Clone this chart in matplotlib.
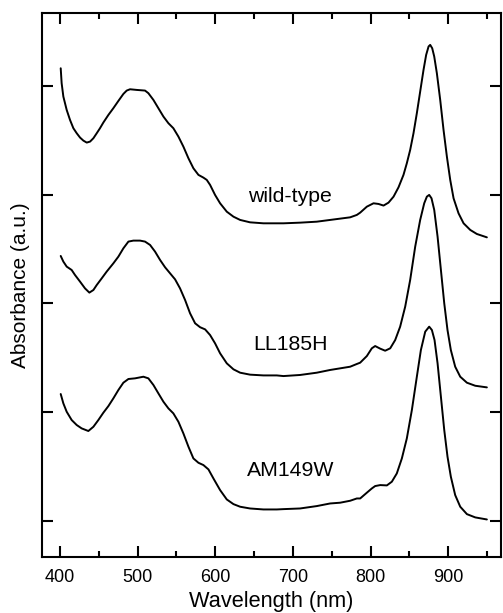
import matplotlib
matplotlib.use("Agg")
import matplotlib.pyplot as plt
from matplotlib.ticker import MultipleLocator, NullFormatter

plt.rcParams['font.family'] = ['Liberation Sans', 'DejaVu Sans']

# wavelength (nm) / absorbance (a.u., spectra stacked)
wt_nm = [400.9, 402.1, 404.3, 408.6, 412.9, 417.2, 421.5, 425.8, 430.1, 434.4, 438.7,
         443.0, 447.3, 451.5, 455.8, 462.3, 468.7, 475.2, 481.6, 485.9, 490.2, 498.8,
         509.5, 513.8, 520.3, 526.7, 533.2, 539.6, 546.0, 552.5, 558.9, 565.4, 571.8,
         578.3, 584.7, 589.0, 593.3, 599.7, 606.2, 614.8, 623.4, 632.0, 644.8, 662.0,
         687.8, 709.2, 730.7, 747.9, 760.8, 773.7, 782.3,
         786.6, 795.2, 803.8, 810.2, 816.7, 823.1, 829.6, 836.0, 842.4, 846.7, 851.0,
         855.3, 859.6, 863.9, 868.2, 871.6, 874.7, 876.8, 879.4, 882.0, 885.4, 889.7,
         894.0, 898.3, 902.6, 906.9, 913.3, 919.8, 928.4, 936.9, 949.8]
wt_abs = [4.162, 4.025, 3.902, 3.779, 3.687, 3.611, 3.565, 3.525, 3.497, 3.479, 3.488,
          3.519, 3.565, 3.611, 3.663, 3.733, 3.795, 3.862, 3.926, 3.957, 3.969, 3.963,
          3.957, 3.933, 3.871, 3.795, 3.718, 3.657, 3.611, 3.534, 3.442, 3.335, 3.243,
          3.182, 3.157, 3.136, 3.090, 2.998, 2.921, 2.844, 2.798, 2.768, 2.746, 2.737,
          2.737, 2.743, 2.752, 2.768, 2.780, 2.792, 2.814,
          2.835, 2.890, 2.921, 2.915, 2.900, 2.927, 2.982, 3.068, 3.182, 3.289, 3.411,
          3.565, 3.749, 3.948, 4.147, 4.285, 4.362, 4.377, 4.346, 4.270, 4.116, 3.871,
          3.595, 3.350, 3.136, 2.967, 2.829, 2.737, 2.676, 2.639, 2.608]

ll_nm = [400.9, 404.3, 408.6, 415.0, 419.3, 425.8, 432.2, 437.8, 443.0, 447.3, 453.7,
         460.1, 468.7, 475.2, 481.6, 488.1, 494.5, 503.1, 509.5, 516.0, 522.4, 528.9,
         535.3, 541.8, 548.2, 554.6, 561.1, 567.5, 574.0, 580.4, 586.9, 593.3, 599.7,
         606.2, 614.8, 623.4, 632.0, 644.8, 662.0, 679.2,
         687.8, 709.2, 730.7, 747.9, 760.8, 773.7, 782.3,
         786.6, 795.2, 801.6, 805.9, 812.4, 818.8, 825.3, 831.7, 838.1, 844.6, 851.0,
         857.5, 863.9, 869.1, 872.5, 875.5, 878.5, 882.0, 886.3, 890.6, 894.9, 899.1,
         903.4, 909.0, 915.5, 924.1, 934.8, 949.8]
ll_abs = [2.437, 2.385, 2.339, 2.308, 2.262, 2.201, 2.139, 2.100, 2.124, 2.170, 2.231,
          2.293, 2.369, 2.431, 2.507, 2.569, 2.578, 2.578, 2.569, 2.538, 2.477, 2.400,
          2.333, 2.277, 2.222, 2.139, 2.032, 1.910, 1.818, 1.782, 1.762, 1.710, 1.634,
          1.542, 1.450, 1.395, 1.364, 1.346, 1.339, 1.339,
          1.333, 1.343, 1.364, 1.389, 1.404, 1.419, 1.444,
          1.456, 1.517, 1.588, 1.609, 1.585, 1.566, 1.588, 1.664, 1.787, 1.971, 2.216,
          2.523, 2.768, 2.921, 2.982, 2.998, 2.967, 2.860, 2.615, 2.308, 2.002, 1.756,
          1.572, 1.419, 1.327, 1.272, 1.244, 1.229]

am_nm = [400.9, 404.3, 408.6, 415.0, 421.5, 427.9, 436.5, 443.0, 449.4, 455.8, 462.3,
         468.7, 475.2, 481.6, 488.1, 496.6, 507.4, 513.8, 520.3, 526.7, 533.2, 539.6,
         546.0, 552.5, 558.9, 565.4, 571.8, 578.3, 584.7, 591.2, 597.6, 606.2, 614.8,
         623.4, 632.0, 644.8, 662.0, 679.2,
         687.8, 709.2, 730.7, 747.9, 760.8, 773.7, 782.3,
         786.6, 795.2, 801.6, 805.9, 812.4, 821.0, 827.4, 833.8, 840.3, 846.7, 853.2,
         859.6, 864.8, 870.4, 875.5, 879.0, 882.4, 886.3, 890.6, 894.9, 899.1, 903.4,
         909.0, 915.5, 924.1, 934.8, 949.8]
am_abs = [1.168, 1.082, 1.005, 0.929, 0.883, 0.852, 0.828, 0.867, 0.929, 0.996, 1.057,
          1.128, 1.205, 1.272, 1.306, 1.312, 1.327, 1.312, 1.251, 1.174, 1.097, 1.036,
          0.990, 0.913, 0.806, 0.684, 0.576, 0.536, 0.515, 0.475, 0.392, 0.285, 0.199,
          0.156, 0.132, 0.116, 0.107, 0.107,
          0.110, 0.116, 0.138, 0.162, 0.169, 0.187, 0.208,
          0.208, 0.261, 0.300, 0.322, 0.331, 0.328, 0.362, 0.438, 0.576, 0.760, 1.021,
          1.327, 1.572, 1.741, 1.787, 1.756, 1.664, 1.450, 1.143, 0.837, 0.592, 0.408,
          0.239, 0.132, 0.064, 0.034, 0.015]

names = ["wild-type", "LL185H", "AM149W"]
label_x = [696, 697, 697]
label_y = [2.936, 1.572, 0.414]

fig = plt.figure(figsize=(5.03, 6.13), dpi=100)
ax = fig.add_axes([42/503, 56/613, 459/503, 544/613])

for xs, ys in [(wt_nm, wt_abs), (ll_nm, ll_abs), (am_nm, am_abs)]:
    ax.plot(xs, ys, color='black', lw=1.4, solid_joinstyle='round',
            solid_capstyle='round')

for n, lx, ly in zip(names, label_x, label_y):
    ax.text(lx, ly, n, fontsize=15.3, ha='center', va='baseline')

ax.set_xlim(376.8, 968)
ax.set_ylim(-0.33, 4.67)
ax.xaxis.set_major_locator(MultipleLocator(100))
ax.xaxis.set_minor_locator(MultipleLocator(50))
ax.yaxis.set_major_locator(MultipleLocator(1))
ax.yaxis.set_major_formatter(NullFormatter())

ax.tick_params(axis='both', which='major', direction='in', length=8, width=1.5,
               top=True, right=True, labelsize=13, pad=8.5)
ax.tick_params(axis='x', which='minor', direction='in', length=4, width=1.5, top=True)
for s in ax.spines.values():
    s.set_linewidth(1.5)

ax.set_xlabel("Wavelength (nm)", fontsize=15.7, labelpad=4)
ax.set_ylabel("Absorbance (a.u.)", fontsize=15, labelpad=0)

fig.savefig("out.png", dpi=100)
